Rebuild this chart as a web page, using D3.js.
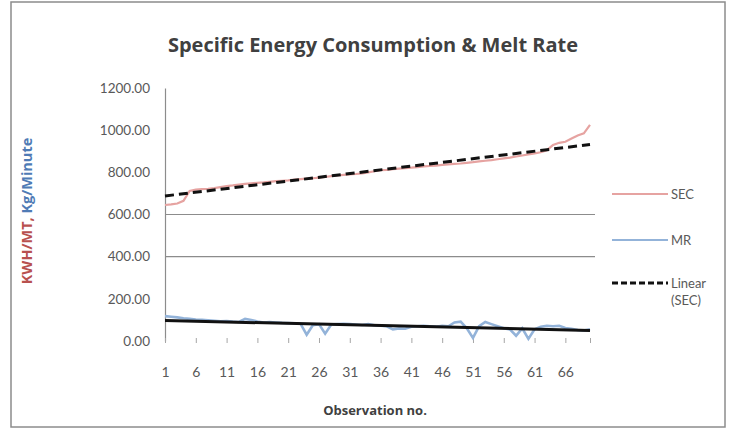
<!DOCTYPE html>
<html>
<head>
    <script src="https://d3js.org/d3.v7.min.js"></script>
    <style>
        body { margin: 0; background: #fff; }
        text { font-family: Lato, "Open Sans", sans-serif; }
    </style>
</head>
<body>
    <div id="chart" style="width: 732px; height: 439px;"></div>

    <script>
        // observation numbers 1..70
        var obs = [1, 2, 3, 4, 5, 6, 7, 8, 9, 10, 11, 12, 13, 14, 15, 16, 17, 18, 19, 20,
            21, 22, 23, 24, 25, 26, 27, 28, 29, 30, 31, 32, 33, 34, 35, 36, 37, 38, 39, 40,
            41, 42, 43, 44, 45, 46, 47, 48, 49, 50, 51, 52, 53, 54, 55, 56, 57, 58, 59, 60,
            61, 62, 63, 64, 65, 66, 67, 68, 69, 70];

        // specific energy consumption (KWH/MT)
        var sec = [645, 648, 652, 665, 712, 718, 720, 722, 725, 730,
            735, 738, 742, 745, 748, 750, 752, 755, 758, 760,
            762, 765, 768, 770, 772, 775, 778, 782, 785, 788,
            790, 792, 795, 800, 805, 810, 812, 815, 818, 820,
            822, 825, 828, 830, 832, 835, 838, 840, 842, 845,
            848, 852, 855, 858, 862, 866, 870, 875, 880, 885,
            890, 895, 905, 930, 940, 945, 960, 975, 985, 1025];

        // melt rate (Kg/Minute)
        var mr = [118, 115, 112, 108, 105, 102, 100, 98, 96, 94,
            95, 92, 90, 105, 100, 92, 88, 90, 88, 86,
            85, 84, 82, 30, 75, 80, 35, 78, 80, 82,
            80, 78, 76, 80, 75, 72, 70, 55, 60, 58,
            68, 70, 72, 70, 68, 72, 70, 88, 92, 60,
            15, 70, 90, 80, 70, 60, 55, 25, 60, 10,
            55, 68, 72, 70, 72, 62, 58, 52, 50, 55];

        // trend lines, value at first and last observation
        var secTrend = [688, 932];
        var mrTrend = [97, 50];

        var yTicks = [0, 200, 400, 600, 800, 1000, 1200];
        var xTicks = [1, 6, 11, 16, 21, 26, 31, 36, 41, 46, 51, 56, 61, 66];
        var gridValues = [400, 600];

        var width = 732, height = 439;

        var svg = d3.select("#chart")
            .append("svg")
            .attr("width", width)
            .attr("height", height);

        // chart border
        svg.append("rect")
            .attr("x", 11).attr("y", 2)
            .attr("width", 714).attr("height", 425)
            .attr("fill", "#fff")
            .attr("stroke", "#8c8c8c")
            .attr("stroke-width", 1.5);

        var x = d3.scaleLinear().domain([1, 70]).range([165, 590]);
        var y = d3.scaleLinear().domain([0, 1200]).range([341, 88]);

        // title
        svg.append("text")
            .attr("x", 373).attr("y", 52)
            .attr("text-anchor", "middle")
            .attr("font-size", 20)
            .attr("font-weight", "bold")
            .attr("fill", "#404040")
            .style("font-family", "'Open Sans', sans-serif")
            .text("Specific Energy Consumption & Melt Rate");

        // gridlines
        svg.append("g")
            .selectAll("line")
            .data(gridValues)
            .join("line")
            .attr("x1", 165).attr("x2", 595)
            .attr("y1", d => y(d)).attr("y2", d => y(d))
            .attr("stroke", "#8c8c8c")
            .attr("stroke-width", 1.2);

        // y axis
        var yAxis = svg.append("g")
            .attr("transform", "translate(165,0)")
            .call(d3.axisLeft(y).tickValues(yTicks).tickSize(0).tickPadding(15)
                .tickFormat(d3.format(".2f")));
        yAxis.select(".domain").attr("stroke", "#8c8c8c").attr("stroke-width", 1.2);
        yAxis.selectAll("text")
            .attr("font-size", 13.5)
            .attr("fill", "#595959")
            .style("font-family", "Lato, sans-serif");

        // x axis: tick marks only, no line
        var xAxis = svg.append("g")
            .attr("transform", "translate(0,341)")
            .call(d3.axisBottom(x).tickValues(xTicks.concat([70])).tickSize(5).tickPadding(21)
                .tickFormat(d => xTicks.indexOf(d) >= 0 ? d : ""));
        xAxis.select(".domain").remove();
        xAxis.selectAll("line").attr("stroke", "#a6a6a6").attr("transform", "translate(0,-3)");
        xAxis.selectAll("text")
            .attr("font-size", 14)
            .attr("fill", "#595959")
            .style("font-family", "Lato, sans-serif");

        var line = d3.line()
            .x((d, i) => x(obs[i]))
            .y(d => y(d));

        // SEC
        svg.append("path")
            .datum(sec)
            .attr("d", line)
            .attr("fill", "none")
            .attr("stroke", "#e6a3a1")
            .attr("stroke-width", 2.2);

        // MR
        svg.append("path")
            .datum(mr)
            .attr("d", line)
            .attr("fill", "none")
            .attr("stroke", "#93b3d9")
            .attr("stroke-width", 2.6);

        var ends = [obs[0], obs[obs.length - 1]];
        var trendLine = d3.line()
            .x((d, i) => x(ends[i]))
            .y(d => y(d));

        // linear (SEC)
        svg.append("path")
            .datum(secTrend)
            .attr("d", trendLine)
            .attr("fill", "none")
            .attr("stroke", "#111")
            .attr("stroke-width", 3)
            .attr("stroke-dasharray", "9,5");

        // MR trend
        svg.append("path")
            .datum(mrTrend)
            .attr("d", trendLine)
            .attr("fill", "none")
            .attr("stroke", "#111")
            .attr("stroke-width", 3);

        // y axis title
        var yt = svg.append("text")
            .attr("transform", "translate(32,211) rotate(-90)")
            .attr("text-anchor", "middle")
            .attr("font-size", 14.5)
            .attr("font-weight", "bold")
            .style("font-family", "'Open Sans', sans-serif");
        yt.append("tspan").attr("fill", "#b8514f").text("KWH/MT, ");
        yt.append("tspan").attr("fill", "#4f7bb5").text(" Kg/Minute");

        // x axis title
        svg.append("text")
            .attr("x", 375).attr("y", 415)
            .attr("text-anchor", "middle")
            .attr("font-size", 13)
            .attr("font-weight", "bold")
            .attr("fill", "#404040")
            .style("font-family", "'Open Sans', sans-serif")
            .text("Observation no.");

        // legend
        var legendItems = [
            { label: ["SEC"], color: "#e6a3a1", dash: null, y: 194 },
            { label: ["MR"], color: "#93b3d9", dash: null, y: 240 },
            { label: ["Linear", "(SEC)"], color: "#111", dash: "6,3", y: 283 }
        ];
        var lg = svg.append("g")
            .selectAll("g")
            .data(legendItems)
            .join("g");
        lg.append("line")
            .attr("x1", 612).attr("x2", 668)
            .attr("y1", d => d.y).attr("y2", d => d.y)
            .attr("stroke", d => d.color)
            .attr("stroke-width", d => d.dash ? 3 : 2.2)
            .attr("stroke-dasharray", d => d.dash);
        lg.each(function (d) {
            var t = d3.select(this).append("text")
                .attr("x", 671).attr("y", d.y + 5)
                .attr("font-size", 13)
                .attr("fill", "#595959");
            d.label.forEach(function (s, i) {
                t.append("tspan").attr("x", 671).attr("dy", i ? 17 : 0).text(s);
            });
        });
    </script>
</body>
</html>
